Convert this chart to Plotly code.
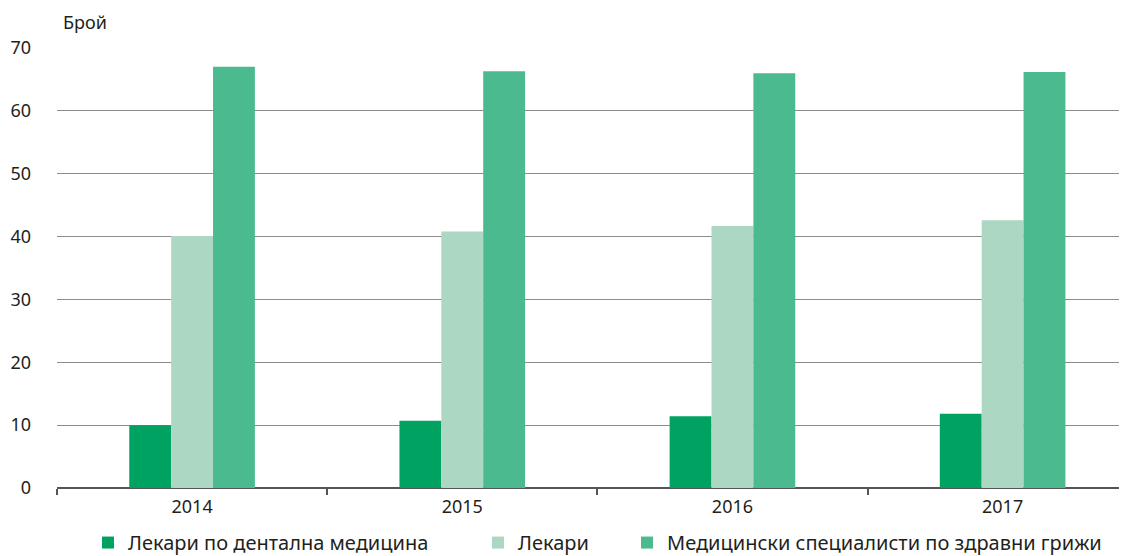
import plotly.graph_objects as go

years = ["2014", "2015", "2016", "2017"]
dental = [10.0, 10.7, 11.4, 11.8]
doctors = [40.1, 40.8, 41.7, 42.6]
health_pros = [67.0, 66.3, 66.0, 66.2]

names = ["Лекари по дентална медицина", "Лекари", "Медицински специалисти по здравни грижи"]
colors = ["#00a262", "#acd8c3", "#4bba8f"]
series = [dental, doctors, health_pros]
legend_ids = ["legend", "legend2", "legend3"]
legend_x_px = [80, 470, 619]  # figure coordinates (page has an 8px body margin)

PLOT_L, PLOT_W = 49, 1078

fig = go.Figure()
for n, c, s, lid in zip(names, colors, series, legend_ids):
    fig.add_trace(go.Bar(x=years, y=s, name=n, legend=lid,
                         marker=dict(color=c, line=dict(width=0))))

legend_common = dict(orientation="h", yanchor="middle", y=-0.124, xanchor="left",
                     font=dict(size=20, color="#231f20"), itemclick=False,
                     bgcolor="rgba(0,0,0,0)")
legends = {}
for lid, px in zip(legend_ids, legend_x_px):
    legends[lid] = dict(legend_common, x=(px - PLOT_L) / PLOT_W)

fig.update_layout(
    width=1127, height=556,
    margin=dict(l=PLOT_L, r=0, t=40, b=76, autoexpand=False),
    paper_bgcolor="white", plot_bgcolor="white",
    barmode="group", bargap=0.535, bargroupgap=0,
    font=dict(family="Noto Sans", size=18, color="#231f20"),
    showlegend=True,
    annotations=[dict(text="Брой", xref="paper", yref="paper", x=0, y=1,
                      xanchor="left", yanchor="bottom", xshift=4, yshift=12,
                      showarrow=False, font=dict(size=18, color="#231f20"))],
    **legends,
)
fig.update_xaxes(type="category", range=[-0.5, 3.49], tickson="boundaries",
                 ticks="outside", ticklen=6, tickwidth=1.5, tickcolor="#555555",
                 ticklabelstandoff=6,
                 showline=False, showgrid=False, tickfont=dict(size=18), automargin=False)
fig.update_yaxes(range=[0, 70], dtick=10, showgrid=True, gridcolor="#8c8c8c", gridwidth=1.3,
                 zeroline=True, zerolinecolor="#555555", zerolinewidth=1.5,
                 ticks="", ticklabelstandoff=25, tickfont=dict(size=18), automargin=False)

fig.write_html("out.html")
